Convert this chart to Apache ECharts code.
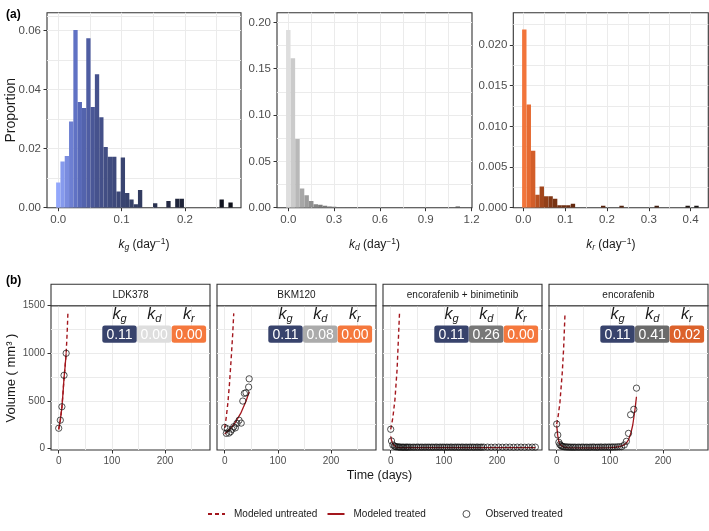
<!DOCTYPE html>
<html>
<head>
<meta charset="utf-8">
<script src="https://cdn.jsdelivr.net/npm/echarts@6.0.0/dist/echarts.min.js"></script>
<style>
html,body{margin:0;padding:0;background:#ffffff;}
#chart{width:709px;height:531px;}
</style>
</head>
<body>
<div id="chart"></div>
<script>
// ================= DATA : (a) histograms =================
const kgBinWidth = 0.0068;
const kgBinCenter = [0, 0.0068, 0.0136, 0.0204, 0.0272, 0.034, 0.0408, 0.0476, 0.0544, 0.0612, 0.068, 0.0748, 0.0816, 0.0884, 0.0952, 0.102, 0.1088, 0.1156, 0.1224, 0.1292, 0.153, 0.174, 0.188, 0.195, 0.258, 0.272];
const kgProportion = [0.0085, 0.0157, 0.0175, 0.0292, 0.0602, 0.0358, 0.0338, 0.0574, 0.0341, 0.0452, 0.0307, 0.0206, 0.0173, 0.0173, 0.0055, 0.0170, 0.0050, 0.0028, 0.0012, 0.0060, 0.0015, 0.0023, 0.0030, 0.0030, 0.0028, 0.0018];

const kdBinWidth = 0.0295;
const kdBinCenter = [0, 0.03, 0.06, 0.09, 0.12, 0.15, 0.18, 0.21, 0.24, 0.27, 0.30, 0.33, 0.36, 0.39, 0.42, 0.48, 1.11];
const kdProportion = [0.1917, 0.1613, 0.0741, 0.0206, 0.0134, 0.0072, 0.0036, 0.0033, 0.0022, 0.0014, 0.0010, 0.0005, 0.0005, 0.0005, 0.0004, 0.0008, 0.0012];

const krBinWidth = 0.0105;
const krBinCenter = [0.0024, 0.0131, 0.0235, 0.0339, 0.0442, 0.0546, 0.0653, 0.0761, 0.0865, 0.0968, 0.1076, 0.1187, 0.191, 0.235, 0.319, 0.393, 0.414];
const krProportion = [0.0219, 0.0127, 0.0070, 0.0016, 0.0026, 0.0014, 0.0014, 0.0011, 0.0003, 0.0003, 0.0003, 0.0005, 0.00025, 0.00025, 0.00025, 0.00025, 0.00025];

// tick labels (a)
const kgXTicks = [0, 0.1, 0.2],                 kgXMinor = [0.05, 0.15, 0.25];
const kgYTicks = [0, 0.02, 0.04, 0.06],          kgYMinor = [0.01, 0.03, 0.05, 0.065];
const kdXTicks = [0, 0.3, 0.6, 0.9, 1.2],        kdXMinor = [0.15, 0.45, 0.75, 1.05];
const kdYTicks = [0, 0.05, 0.10, 0.15, 0.20],    kdYMinor = [0.025, 0.075, 0.125, 0.175];
const krXTicks = [0, 0.1, 0.2, 0.3, 0.4],        krXMinor = [0.05, 0.15, 0.25, 0.35];
const krYTicks = [0, 0.005, 0.010, 0.015, 0.020], krYMinor = [0.0025, 0.0075, 0.0125, 0.0175, 0.0225];

// ================= DATA : (b) tumour volumes =================
const treatments = ['LDK378', 'BKM120', 'encorafenib + binimetinib', 'encorafenib'];
const paramKg = [0.11, 0.11, 0.11, 0.11];
const paramKd = [0.00, 0.08, 0.26, 0.41];
const paramKr = [0.00, 0.00, 0.00, 0.02];
const paramNames = ['g', 'd', 'r'];

const ldkObsDay = [0, 3, 6, 10, 14];
const ldkObsVol = [211, 296, 437, 768, 1000];
const ldkTreatedDay = [0, 3, 6, 8, 10, 12, 14];
const ldkTreatedVol = [200, 296, 430, 575, 740, 860, 1000];
const ldkUntreatedDay = [0, 3, 6, 8, 10, 12, 14, 16, 17.3];
const ldkUntreatedVol = [200, 296, 430, 575, 740, 860, 1000, 1230, 1425];

const bkmObsDay = [0, 3, 5, 8, 11, 14, 17, 20, 23, 27, 31, 34, 37, 40, 45, 46];
const bkmObsVol = [220, 157, 205, 160, 175, 200, 227, 215, 262, 295, 265, 497, 578, 584, 644, 731];
const bkmTreatedDay = [0, 10, 20, 30, 40, 46];
const bkmTreatedVol = [150, 202, 272, 367, 495, 595];
const bkmUntreatedDay = [0, 3, 6, 9, 12, 15, 17];
const bkmUntreatedVol = [215, 330, 480, 680, 930, 1200, 1420];

const ebObsDay = [0, 1.5, 4, 7, 9, 11, 14, 16, 18, 21, 23, 25, 28, 30, 32, 35, 38, 42, 45, 49, 52, 56, 59, 63, 66, 70, 73, 77, 80, 84, 87, 91, 94, 98, 101, 105, 108, 112, 115, 119, 122, 126, 129, 133, 136, 140, 143, 147, 150, 154, 157, 161, 164, 168, 171, 175, 182, 189, 196, 203, 210, 217, 224, 231, 238, 245, 252, 259, 266, 272];
const ebObsVol = [200, 77, 35, 24, 18, 16, 14, 13, 12, 12, 11, 12, 11, 12, 11, 12, 11, 12, 11, 12, 12, 11, 12, 11, 12, 12, 11, 12, 11, 12, 12, 11, 12, 12, 11, 12, 11, 12, 12, 11, 12, 12, 11, 12, 12, 11, 12, 11, 12, 12, 11, 12, 12, 11, 12, 12, 12, 11, 12, 12, 11, 12, 12, 11, 12, 12, 11, 12, 12, 12];
const ebTreatedDay = [0, 2, 4, 6, 9, 13, 20, 40, 100, 200, 272];
const ebTreatedVol = [125, 75, 45, 28, 16, 10, 8, 7, 7, 7, 7];
const ebUntreatedDay = [0, 4, 8, 12, 16.5];
const ebUntreatedVol = [200, 320, 515, 830, 1418];

const encObsDay = [0, 2, 4, 6, 8, 10, 12, 15, 18, 21, 24, 27, 30, 33, 36, 40, 43, 47, 50, 54, 57, 61, 64, 68, 71, 75, 78, 82, 85, 89, 92, 96, 99, 103, 106, 110, 114, 118, 122, 127, 131, 135, 139, 145, 150];
const encObsVol = [255, 140, 63, 40, 28, 22, 18, 15, 14, 13, 12, 12, 11, 12, 11, 12, 11, 12, 12, 11, 12, 11, 12, 13, 12, 11, 12, 13, 12, 12, 13, 12, 13, 12, 14, 13, 15, 16, 17, 35, 73, 157, 353, 410, 633];
const encTreatedDay = [0, 2, 4, 6, 9, 13, 20, 40, 80, 100, 110, 118, 125, 131, 135, 139, 143, 147, 150];
const encTreatedVol = [240, 130, 72, 42, 22, 12, 7, 5, 5, 7, 11, 17, 30, 55, 90, 150, 245, 400, 542];
const encUntreatedDay = [0, 3, 6, 10.5, 13, 15.6];
const encUntreatedVol = [255, 350, 480, 800, 1050, 1418];

// tick labels (b)
const dayTicks = [0, 100, 200], dayMinor = [50, 150, 250];
const volTicks = [0, 500, 1000, 1500], volMinor = [250, 750, 1250];

// ================= STYLE / LAYOUT =================
const FONT = "'Liberation Sans', Arial, Helvetica, sans-serif";
const RED = '#a3161d';
const KG_STOPS = [[0, '#93a7fb'], [0.03, '#5b6cbe'], [0.06, '#46528e'], [0.11, '#38436c'], [0.18, '#22283f'], [0.28, '#0d0f17']];
const KD_STOPS = [[0, '#dedede'], [0.08, '#ababab'], [0.2, '#7d7d7d'], [0.41, '#6b6b6b'], [1.2, '#4d4d4d']];
const KR_STOPS = [[0, '#f5783d'], [0.02, '#dc622b'], [0.04, '#a9491d'], [0.07, '#7a3413'], [0.12, '#63290f'], [0.3, '#4a2211'], [0.42, '#151515']];

function hex2rgb(h) { return [parseInt(h.slice(1, 3), 16), parseInt(h.slice(3, 5), 16), parseInt(h.slice(5, 7), 16)]; }
function gradColor(stops, v) {
  if (v <= stops[0][0]) return stops[0][1];
  for (let i = 1; i < stops.length; i++) {
    if (v <= stops[i][0]) {
      const t = (v - stops[i - 1][0]) / (stops[i][0] - stops[i - 1][0]);
      const a = hex2rgb(stops[i - 1][1]), b = hex2rgb(stops[i][1]);
      return 'rgb(' + a.map((x, j) => Math.round(x + (b[j] - x) * t)).join(',') + ')';
    }
  }
  return stops[stops.length - 1][1];
}

const grids = [], xAxes = [], yAxes = [], series = [], graphics = [];

function addPanel(box, xr, yr, xt, xm, yt, ym, xDec, yDec, fs, lm, showY) {
  const gi = grids.length;
  grids.push({left: box.left, top: box.top, width: box.width, height: box.height, show: true,
    borderColor: '#333333', borderWidth: 1.1, backgroundColor: 'transparent', containLabel: false, outerBoundsMode: 'none'});
  const inner = (arr, r) => arr.filter(v => { const f = (v - r[0]) / (r[1] - r[0]); return f > 0.012 && f < 0.988; });
  const mk = (dim, r, ticks, minor, dec, isGrid, show) => {
    const o = {type: 'value', gridIndex: gi, min: r[0], max: r[1],
      position: dim === 'x' ? (isGrid ? 'top' : 'bottom') : (isGrid ? 'right' : 'left'),
      axisLine: {show: false, onZero: false}, splitArea: {show: false},
      minorTick: {show: false}, minorSplitLine: {show: false}};
    if (isGrid) {
      o.axisTick = {show: false, customValues: inner(ticks.concat(minor), r)};
      o.axisLabel = {show: false};
      o.splitLine = {show: true, lineStyle: {color: '#ebebeb', width: 1}};
    } else {
      o.axisTick = {show: show, inside: false, length: 3.5, customValues: ticks, lineStyle: {color: '#333333', width: 1}};
      o.axisLabel = {show: show, customValues: ticks, margin: lm, fontSize: fs, color: '#4d4d4d', fontFamily: FONT,
        formatter: v => Number(v).toFixed(dec)};
      o.splitLine = {show: false};
    }
    return o;
  };
  xAxes.push(mk('x', xr, xt, xm, xDec, true, true), mk('x', xr, xt, xm, xDec, false, true));
  yAxes.push(mk('y', yr, yt, ym, yDec, true, true), mk('y', yr, yt, ym, yDec, false, showY));
  return gi;
}

function addHist(gi, centers, props, w, stops) {
  series.push({type: 'custom', xAxisIndex: 2 * gi, yAxisIndex: 2 * gi, clip: true, silent: true,
    data: centers.map((c, i) => [c, props[i]]),
    renderItem: (params, api) => {
      const c = api.value(0), v = api.value(1);
      const a = api.coord([c - w / 2, v]), b = api.coord([c + w / 2, 0]);
      return {type: 'rect', shape: {x: a[0], y: a[1], width: b[0] - a[0], height: b[1] - a[1]},
        style: {fill: gradColor(stops, c)}};
    }});
}

const pair = (a, b) => a.map((d, i) => [d, b[i]]);
function addTumor(gi, uD, uV, tD, tV, oD, oV) {
  series.push({name: 'Modeled untreated', type: 'line', xAxisIndex: 2 * gi, yAxisIndex: 2 * gi, data: pair(uD, uV),
    symbol: 'none', showSymbol: false, clip: true, silent: true, z: 2,
    lineStyle: {color: RED, width: 1.4, type: [4, 3]}, itemStyle: {color: 'rgba(0,0,0,0)', borderWidth: 0}});
  series.push({name: 'Modeled treated', type: 'line', xAxisIndex: 2 * gi, yAxisIndex: 2 * gi, data: pair(tD, tV),
    symbol: 'none', showSymbol: false, clip: true, silent: true, z: 3,
    lineStyle: {color: RED, width: 1.3, type: 'solid'}, itemStyle: {color: 'rgba(0,0,0,0)', borderWidth: 0}});
  series.push({name: 'Observed treated', type: 'scatter', xAxisIndex: 2 * gi, yAxisIndex: 2 * gi, data: pair(oD, oV),
    symbol: 'circle', symbolSize: 6.3, clip: true, silent: true, z: 4,
    itemStyle: {color: 'rgba(0,0,0,0)', borderColor: '#111111', borderWidth: 0.9}});
}

// ---- (a) panels ----
const TOPY = 12.7, TOPH = 195;
const gKg = addPanel({left: 47, top: TOPY, width: 194, height: TOPH}, [-0.0178, 0.2885], [0, 0.0661], kgXTicks, kgXMinor, kgYTicks, kgYMinor, 1, 2, 11.5, 6, true);
const gKd = addPanel({left: 277, top: TOPY, width: 195, height: TOPH}, [-0.074, 1.203], [0, 0.2104], kdXTicks, kdXMinor, kdYTicks, kdYMinor, 1, 2, 11.5, 6, true);
const gKr = addPanel({left: 513.3, top: TOPY, width: 195, height: TOPH}, [-0.0239, 0.4423], [0, 0.02397], krXTicks, krXMinor, krYTicks, krYMinor, 1, 3, 11.5, 6, true);
addHist(gKg, kgBinCenter, kgProportion, kgBinWidth, KG_STOPS);
addHist(gKd, kdBinCenter, kdProportion, kdBinWidth, KD_STOPS);
addHist(gKr, krBinCenter, krProportion, krBinWidth, KR_STOPS);

// ---- (b) panels ----
const BOT_LEFTS = [51, 217, 383, 549], BOT_W = 159, BOT_TOP = 305.7, BOT_H = 144.3;
const STRIP_TOP = 284.3;
const tumorData = [
  [ldkUntreatedDay, ldkUntreatedVol, ldkTreatedDay, ldkTreatedVol, ldkObsDay, ldkObsVol],
  [bkmUntreatedDay, bkmUntreatedVol, bkmTreatedDay, bkmTreatedVol, bkmObsDay, bkmObsVol],
  [ebUntreatedDay, ebUntreatedVol, ebTreatedDay, ebTreatedVol, ebObsDay, ebObsVol],
  [encUntreatedDay, encUntreatedVol, encTreatedDay, encTreatedVol, encObsDay, encObsVol]
];
const STOPS3 = [KG_STOPS, KD_STOPS, KR_STOPS];
const boxRich = {
  k: {fontSize: 16, fontStyle: 'italic', fontFamily: FONT, fill: '#1a1a1a'},
  s: {fontSize: 11, fontStyle: 'italic', fontFamily: FONT, fill: '#1a1a1a', padding: [8, 0, 0, 0]}
};
treatments.forEach((name, p) => {
  const left = BOT_LEFTS[p];
  const gi = addPanel({left: left, top: BOT_TOP, width: BOT_W, height: BOT_H}, [-14.5, 284.5], [-18, 1500.5],
    dayTicks, dayMinor, volTicks, volMinor, 0, 0, 10, 6, p === 0);
  const d = tumorData[p];
  addTumor(gi, d[0], d[1], d[2], d[3], d[4], d[5]);
  // strip
  graphics.push({type: 'rect', z: 100, shape: {x: left, y: STRIP_TOP, width: BOT_W, height: BOT_TOP - STRIP_TOP},
    style: {fill: '#ffffff', stroke: '#333333', lineWidth: 1.1}});
  graphics.push({type: 'text', z: 101, x: left + BOT_W / 2, y: (STRIP_TOP + BOT_TOP) / 2,
    style: {text: name, fontSize: 10, fontFamily: FONT, fill: '#1a1a1a', align: 'center', verticalAlign: 'middle'}});
  // parameter boxes
  const vals = [paramKg[p], paramKd[p], paramKr[p]];
  vals.forEach((v, j) => {
    const BW = 34.4, BH = 17.2, BY = 325.6;
    const x = left + 51.3 + j * (BW + 0.3);
    graphics.push({type: 'rect', z: 100, shape: {x: x, y: BY, width: BW, height: BH, r: 2.5},
      style: {fill: gradColor(STOPS3[j], v)}});
    graphics.push({type: 'text', z: 101, x: x + BW / 2, y: BY + BH / 2 + 0.5,
      style: {text: v.toFixed(2), fontSize: 14, fontFamily: FONT, fill: '#ffffff', align: 'center', verticalAlign: 'middle'}});
    graphics.push({type: 'text', z: 101, x: x + BW / 2, y: 315,
      style: {text: '{k|k}{s|' + paramNames[j] + '}', rich: boxRich, align: 'center', verticalAlign: 'middle'}});
  });
});

// ---- titles ----
function txt(x, y, text, extra, rot) {
  const el = {type: 'text', z: 101, x: x, y: y,
    style: Object.assign({text: text, fontFamily: FONT, fill: '#1a1a1a', align: 'center', verticalAlign: 'middle'}, extra || {})};
  if (rot) el.rotation = rot;
  graphics.push(el);
}
txt(6, 15, '(a)', {fontSize: 12, fontWeight: 'bold', align: 'left', fill: '#000'});
txt(6, 281, '(b)', {fontSize: 12, fontWeight: 'bold', align: 'left', fill: '#000'});
txt(11, 110.2, 'Proportion', {fontSize: 14}, Math.PI / 2);
txt(11, 378, 'Volume ( mm³ )', {fontSize: 13}, Math.PI / 2);
txt(379.5, 475.5, 'Time (days)', {fontSize: 12.5});
const axRich = {
  k: {fontSize: 12, fontStyle: 'italic', fontFamily: FONT, fill: '#1a1a1a'},
  s: {fontSize: 8.5, fontStyle: 'italic', fontFamily: FONT, fill: '#1a1a1a', padding: [6, 0, 0, 0]},
  t: {fontSize: 12, fontFamily: FONT, fill: '#1a1a1a'},
  p: {fontSize: 8.5, fontFamily: FONT, fill: '#1a1a1a', padding: [0, 0, 7, 0]}
};
[[144, 'g'], [374.5, 'd'], [610.8, 'r']].forEach(([cx, sub]) => {
  txt(cx, 245, '{k|k}{s|' + sub + '}{t| (day}{p|−1}{t|)}', {rich: axRich});
});

// ---- legends ----
const legBase = {top: 509, padding: 0, itemHeight: 8, itemWidth: 17, selectedMode: false,
  itemStyle: {opacity: 0},
  textStyle: {fontSize: 10, fontFamily: FONT, color: '#1a1a1a', padding: [0, 0, 0, 4]}};
const legends = [
  Object.assign({}, legBase, {left: 207, data: ['Modeled untreated']}),
  Object.assign({}, legBase, {left: 326.5, data: ['Modeled treated']}),
  Object.assign({}, legBase, {left: 462.5, itemWidth: 7, itemHeight: 7, itemStyle: {},
    textStyle: {fontSize: 10, fontFamily: FONT, color: '#1a1a1a', padding: [0, 0, 0, 10.5]},
    data: [{name: 'Observed treated', icon: 'circle', itemStyle: {color: 'rgba(0,0,0,0)', borderColor: '#111', borderWidth: 0.9}}]})
];

const chart = echarts.init(document.getElementById('chart'), null, {renderer: 'canvas'});
chart.setOption({
  animation: false,
  backgroundColor: '#ffffff',
  grid: grids,
  xAxis: xAxes,
  yAxis: yAxes,
  legend: legends,
  series: series,
  graphic: {elements: graphics}
});
</script>
</body>
</html>
